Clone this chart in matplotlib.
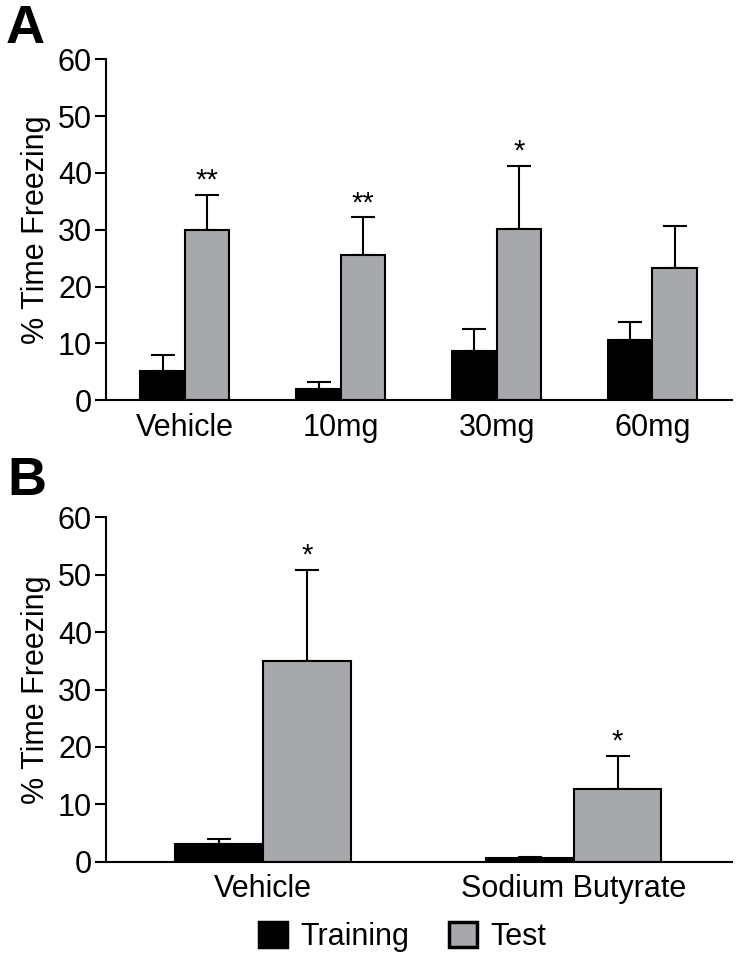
import numpy as np
import matplotlib
matplotlib.use("Agg")
import matplotlib.pyplot as plt
from matplotlib.patches import Patch

plt.rcParams["font.family"] = ["Liberation Sans", "DejaVu Sans"]

# Panel A: dose groups
groups_a = ["Vehicle", "10mg", "30mg", "60mg"]
train_a = [5.1, 1.9, 8.6, 10.6]
train_a_err = [2.8, 1.3, 4.0, 3.2]
test_a = [30.0, 25.5, 30.2, 23.2]
test_a_err = [6.2, 6.7, 11.1, 7.4]
stars_a = ["**", "**", "*", ""]

# Panel B: vehicle vs sodium butyrate
groups_b = ["Vehicle", "Sodium Butyrate"]
train_b = [3.0, 0.7]
train_b_err = [0.9, 0.2]
test_b = [35.0, 12.7]
test_b_err = [15.9, 5.8]
stars_b = ["*", "*"]

TRAIN_COLOR = "black"
TEST_COLOR = "#a7a8ab"
FS = 22


def draw_panel(ax, groups, train, train_err, test, test_err, stars, width):
    x = np.arange(len(groups))
    ekw = dict(ecolor="black", elinewidth=1.5, capsize=8.5, capthick=1.5)
    ax.bar(x - width / 2, train, width, color=TRAIN_COLOR, edgecolor="black",
           linewidth=1.5, zorder=2)
    ax.errorbar(x - width / 2, train, yerr=[np.zeros(len(x)), train_err],
                fmt="none", zorder=1, **ekw)
    ax.bar(x + width / 2, test, width, color=TEST_COLOR, edgecolor="black",
           linewidth=1.5, zorder=2)
    ax.errorbar(x + width / 2, test, yerr=[np.zeros(len(x)), test_err],
                fmt="none", zorder=1, **ekw)

    for xi, t, e, s in zip(x, test, test_err, stars):
        if s:
            ax.annotate(s, (xi + width / 2, t + e), xytext=(0, 0),
                        textcoords="offset points", ha="center", va="bottom",
                        fontsize=21)

    ax.set_ylim(0, 60)
    ax.set_yticks(range(0, 61, 10))
    ax.set_xlim(-0.506, len(groups) - 0.49)
    ax.set_xticks(x)
    ax.set_xticklabels(groups)
    ax.set_ylabel("% Time Freezing", fontsize=FS, labelpad=5)
    ax.tick_params(axis="y", labelsize=FS, length=8, width=1.5, direction="out", pad=2)
    ax.tick_params(axis="x", labelsize=FS, length=0, pad=9)
    for side in ["top", "right"]:
        ax.spines[side].set_visible(False)
    for side in ["left", "bottom"]:
        ax.spines[side].set_linewidth(1.5)


fig = plt.figure(figsize=(7.39, 9.67), dpi=100)
ax_a = fig.add_axes([0.1434, 0.5863, 0.8471, 0.3522])
ax_b = fig.add_axes([0.1434, 0.1089, 0.8471, 0.3561])

draw_panel(ax_a, groups_a, train_a, train_a_err, test_a, test_a_err, stars_a, 0.285)
draw_panel(ax_b, groups_b, train_b, train_b_err, test_b, test_b_err, stars_b, 0.283)

fig.text(0.007, 0.996, "A", fontsize=39, fontweight="bold", va="top", ha="left")
fig.text(0.010, 0.528, "B", fontsize=39, fontweight="bold", va="top", ha="left")

handles = [Patch(facecolor=TRAIN_COLOR, edgecolor="black", linewidth=2.5, label="Training"),
           Patch(facecolor=TEST_COLOR, edgecolor="black", linewidth=2.5, label="Test")]
fig.legend(handles=handles, loc="center", bbox_to_anchor=(0.545, 0.031), ncol=2,
           frameon=False, fontsize=FS, handlelength=0.9, handleheight=0.9,
           handletextpad=0.45, columnspacing=1.3)

fig.savefig("out.png", dpi=100)
